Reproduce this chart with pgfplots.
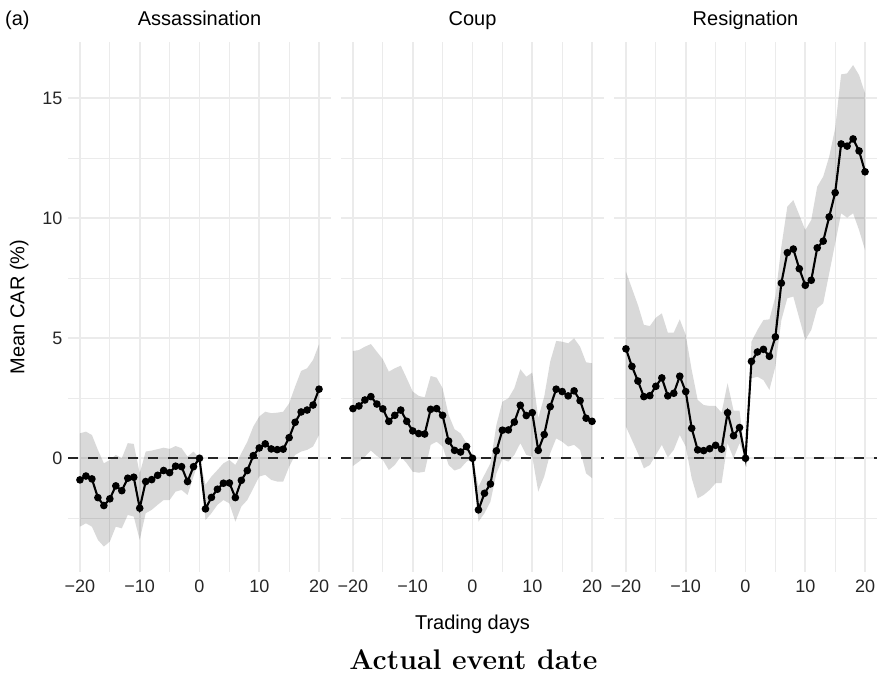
\documentclass[border=0pt]{standalone}
\usepackage{pgfplots}
\pgfplotsset{compat=1.18}
\usepackage{pgfplotstable}
\usepgfplotslibrary{fillbetween}
\usepackage{fontspec}
\newfontfamily\chartfont{Liberation Sans}

\pgfplotstableread{
x y lo hi
-20 -0.90 -2.85 1.04
-19 -0.74 -2.71 1.11
-18 -0.86 -2.85 0.97
-17 -1.64 -3.40 0.35
-16 -1.97 -3.68 -0.21
-15 -1.69 -3.47 -0.07
-14 -1.15 -2.85 0.14
-13 -1.35 -2.92 0.00
-12 -0.83 -2.36 0.63
-11 -0.79 -2.43 0.60
-10 -2.08 -3.40 -0.63
-9 -0.97 -2.29 0.28
-8 -0.89 -2.15 0.32
-7 -0.71 -1.94 0.38
-6 -0.51 -1.74 0.44
-5 -0.60 -1.74 0.39
-4 -0.33 -1.39 0.51
-3 -0.35 -1.32 0.42
-2 -0.97 -1.53 0.07
-1 -0.35 -0.76 0.28
0 0.00 0.00 0.00
1 -2.11 -2.57 -1.10
2 -1.63 -2.29 -0.76
3 -1.29 -1.94 -0.49
4 -1.04 -1.74 -0.21
5 -1.03 -1.88 -0.07
6 -1.64 -2.64 -0.28
7 -0.92 -2.01 0.21
8 -0.51 -1.74 0.69
9 0.11 -1.25 1.32
10 0.43 -0.76 1.74
11 0.60 -0.69 1.94
12 0.39 -0.90 1.88
13 0.36 -0.97 1.90
14 0.38 -0.97 1.94
15 0.86 -0.35 2.29
16 1.50 0.14 2.99
17 1.93 0.28 3.64
18 2.01 0.35 3.75
19 2.22 0.49 4.10
20 2.88 0.97 4.75
}\tabA

\pgfplotstableread{
x y lo hi
-20 2.07 -0.32 4.47
-19 2.18 -0.14 4.51
-18 2.43 0.07 4.65
-17 2.57 0.32 4.76
-16 2.26 0.10 4.44
-15 2.06 -0.07 4.13
-14 1.54 -0.49 3.61
-13 1.79 -0.28 3.75
-12 2.01 0.07 3.86
-11 1.54 -0.21 3.33
-10 1.14 -0.56 2.78
-9 1.03 -0.60 2.60
-8 1.01 -0.56 2.54
-7 2.04 0.56 3.43
-6 2.07 0.69 3.36
-5 1.79 0.49 2.92
-4 0.72 -0.28 1.81
-3 0.33 -0.51 1.21
-2 0.26 -0.42 1.04
-1 0.49 -0.14 0.63
0 0.00 0.00 0.00
1 -2.15 -2.64 -1.18
2 -1.46 -2.29 -0.69
3 -1.07 -1.81 -0.21
4 0.31 -0.63 1.39
5 1.17 -0.04 2.36
6 1.18 -0.14 2.50
7 1.51 0.14 2.92
8 2.21 0.63 3.71
9 1.78 0.14 3.40
10 1.90 0.07 3.57
11 0.33 -1.39 1.67
12 0.99 -0.76 2.57
13 2.15 0.21 4.03
14 2.88 0.83 4.89
15 2.78 0.69 4.86
16 2.60 0.49 4.79
17 2.81 0.56 5.00
18 2.40 0.35 4.65
19 1.67 -0.63 4.00
20 1.54 -0.83 3.96
}\tabB

\pgfplotstableread{
x y lo hi
-20 4.56 1.32 7.78
-19 3.83 0.76 7.08
-18 3.22 0.21 6.39
-17 2.57 -0.42 5.56
-16 2.61 -0.28 5.51
-15 3.00 0.14 5.86
-14 3.35 0.56 6.04
-13 2.60 0.04 5.24
-12 2.71 0.35 5.24
-11 3.42 0.97 5.79
-10 2.78 0.49 5.14
-9 1.25 -0.83 3.68
-8 0.35 -1.67 2.43
-7 0.32 -1.53 2.22
-6 0.40 -1.32 2.18
-5 0.54 -1.04 2.18
-4 0.38 -1.04 1.90
-3 1.90 0.63 3.13
-2 0.94 0.00 1.99
-1 1.28 0.63 1.99
0 0.00 0.00 0.00
1 4.04 3.33 4.86
2 4.43 3.40 5.35
3 4.54 3.26 5.76
4 4.25 2.85 5.79
5 5.06 3.82 6.74
6 7.30 5.76 8.82
7 8.57 6.67 10.49
8 8.72 6.74 10.76
9 7.90 5.83 10.14
10 7.21 4.93 9.51
11 7.42 5.35 9.93
12 8.77 6.25 11.32
13 9.05 6.46 11.74
14 10.06 7.70 12.57
15 11.07 8.96 13.75
16 13.10 10.21 16.00
17 13.01 10.03 16.04
18 13.31 10.21 16.39
19 12.81 9.51 15.97
20 11.94 8.68 15.21
}\tabC

\pgfplotsset{
  panel/.style={
    scale only axis, width=263pt, height=530pt,
    xmin=-22, xmax=22, ymin=-4.74, ymax=17.35,
    axis line style={draw=none},
    major tick length=0pt, minor tick length=0pt,
    xtick={-20,-10,0,10,20}, xticklabels={−20,−10,0,10,20},
    minor xtick={-15,-5,5,15},
    ytick={0,5,10,15}, yticklabels={0,5,10,15},
    minor ytick={-2.5,2.5,7.5,12.5},
    grid=both,
    major grid style={color=black!8, line width=1.8pt},
    minor grid style={color=black!8, line width=1.1pt},
    tick label style={font=\chartfont\fontsize{18}{22}\selectfont, text=black!85},
    xticklabel style={yshift=-4.5pt},
    yticklabel style={xshift=-2pt},
    /pgf/number format/assume math mode=true,
  },
  ribbon/.style={fill=black, fill opacity=0.15, draw=none},
  zero/.style={black!85, line width=2.2pt, dash pattern=on 10pt off 10pt},
  mean/.style={black, line width=2.1pt, mark=*, mark size=2.7pt, mark options={solid}},
}

\newcommand{\panelplots}[1]{%
  \addplot[name path=hi, draw=none] table[x=x,y=hi]{#1};
  \addplot[name path=lo, draw=none] table[x=x,y=lo]{#1};
  \addplot[ribbon] fill between[of=hi and lo];
  \addplot[zero] coordinates {(-22,0) (22,0)};
  \addplot[mean] table[x=x,y=y]{#1};
}

\begin{document}
\begin{tikzpicture}

\begin{axis}[panel, at={(68pt,106pt)}, anchor=south west]
\panelplots{\tabA}
\end{axis}

\begin{axis}[panel, at={(341pt,106pt)}, anchor=south west, yticklabels={}]
\panelplots{\tabB}
\end{axis}

\begin{axis}[panel, at={(614pt,106pt)}, anchor=south west, yticklabels={}]
\panelplots{\tabC}
\end{axis}

\begin{scope}[every node/.style={font=\chartfont\fontsize{20}{24}\selectfont, inner sep=0pt}]
\node[anchor=base west] at (5pt,652pt) {(a)};
\node[anchor=base] at (199.5pt,652pt) {Assassination};
\node[anchor=base] at (472.5pt,652pt) {Coup};
\node[anchor=base] at (745.5pt,652pt) {Resignation};
\node[anchor=base] at (472.5pt,48.7pt) {Trading days};
\node[rotate=90] at (19.2pt,371pt) {Mean CAR (\%)};
\end{scope}

\node[anchor=base, inner sep=0pt] at (473.4pt,8.7pt) {\fontsize{28.4}{34}\selectfont\bfseries Actual event date};

\pgfresetboundingbox
\path[use as bounding box] (0,0) rectangle (879pt,678pt);
\end{tikzpicture}
\end{document}
